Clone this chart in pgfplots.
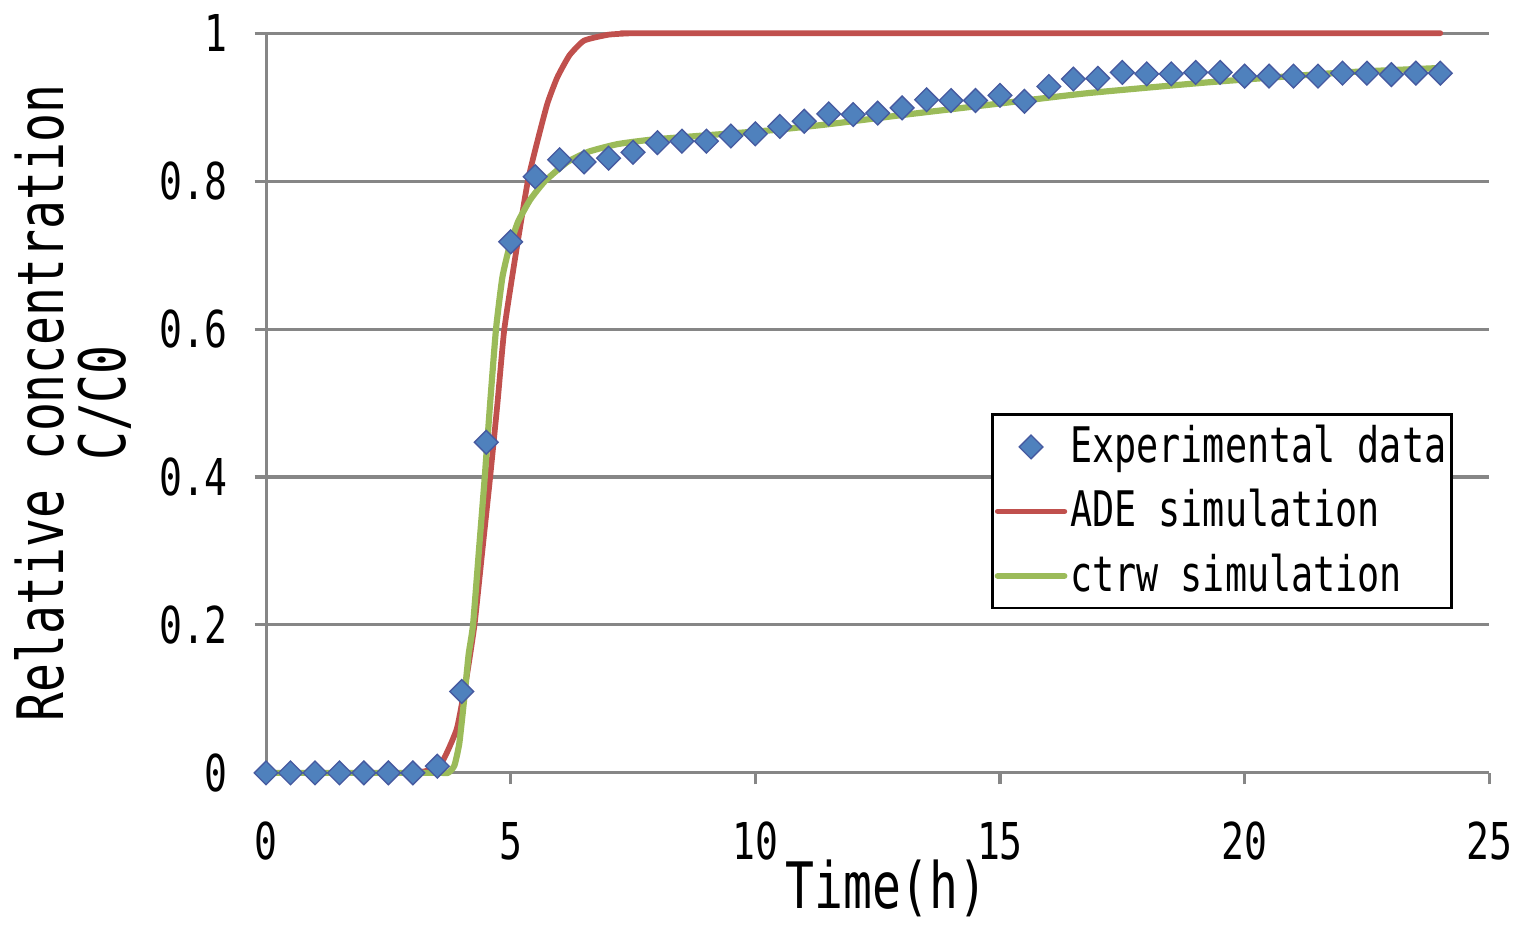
\documentclass[border=0pt]{standalone}
\usepackage{fontspec}
\setmainfont{DejaVu Sans Mono}[FakeStretch=0.75]
\usepackage{pgfplots}
\pgfplotsset{compat=1.18}
\definecolor{xlblue}{RGB}{79,129,189}
\definecolor{xlblueedge}{RGB}{70,90,160}
\definecolor{xlred}{RGB}{192,80,77}
\definecolor{xlgreen}{RGB}{155,187,89}
\definecolor{xlgrid}{RGB}{134,134,134}
\pgfplotsset{
  legline/.style={legend image code/.code={\draw[##1, sharp plot] (0cm,0cm) -- (0.53cm,0cm);}},
  legmark/.style={legend image code/.code={\draw[##1] plot coordinates {(0.265cm,0cm)};}},
}
\begin{document}
\begin{tikzpicture}
\begin{axis}[
    scale only axis, width=277pt, height=167.5pt,
    xmin=0, xmax=25, ymin=0, ymax=1,
    xtick={0,5,10,15,20,25}, ytick={0,0.2,0.4,0.6,0.8,1},
    axis x line*=bottom, axis y line*=left,
    axis line style={draw=xlgrid, line width=0.7pt},
    tick style={draw=xlgrid, line width=0.7pt},
    tick align=outside, major tick length=2.6pt,
    ymajorgrids, major grid style={draw=xlgrid, line width=0.7pt},
    /pgf/number format/assume math mode=true,
    yticklabel style={/pgf/number format/fixed, /pgf/number format/precision=1, xshift=-2.5pt},
    xticklabel style={yshift=-5pt, inner xsep=2pt},
    tick label style={font=\fontsize{11.5}{12}\selectfont},
    xlabel={Time(h)}, xlabel style={font=\fontsize{14.5}{14}\selectfont, yshift=7pt, xshift=2pt},
    ylabel={Relative concentration\\C/C0},
    ylabel style={font=\fontsize{14.5}{14}\selectfont, align=center, yshift=-0.6pt},
    legend style={at={(0.97,0.486)}, anchor=north east, draw=black, line width=0.6pt,
        font=\fontsize{11.1}{12}\selectfont, row sep=0.6pt, inner xsep=0.5pt, inner ysep=0.3pt,
        nodes={inner xsep=0.6pt}},
    legend cell align=left,
    clip=false,
]
\addplot[only marks, mark=square*, mark size=1.9pt,
    mark options={rotate=45, fill=xlblue, draw=xlblueedge, line width=0.3pt}, legmark] coordinates {
  (0,0) (0.5,0) (1,0) (1.5,0) (2,0) (2.5,0) (3,0) (3.5,0.009)
  (4,0.11) (4.5,0.447) (5,0.718) (5.5,0.806) (6,0.829) (6.5,0.826) (7,0.831) (7.5,0.839)
  (8,0.852) (8.5,0.854) (9,0.854) (9.5,0.861) (10,0.864) (10.5,0.874) (11,0.881) (11.5,0.891)
  (12,0.890) (12.5,0.892) (13,0.899) (13.5,0.910) (14,0.909) (14.5,0.909) (15,0.916) (15.5,0.908)
  (16,0.928) (16.5,0.938) (17,0.939) (17.5,0.947) (18,0.945) (18.5,0.945) (19,0.947) (19.5,0.947)
  (20,0.942) (20.5,0.942) (21,0.942) (21.5,0.942) (22,0.946) (22.5,0.946) (23,0.944) (23.5,0.946)
  (24,0.946)};
\addlegendentry{Experimental data}
\addplot[xlred, line width=1.3pt, line cap=round, line join=round, smooth, tension=0.3, legline] coordinates {
  (0,0) (2.8,0) (3.0,0) (3.3,0.003) (3.6,0.015) (3.9,0.06) (4.1,0.13) (4.26,0.2) (4.42,0.3)
  (4.58,0.4) (4.73,0.5) (4.87,0.6) (5.1,0.7) (5.35,0.8) (5.55,0.855) (5.75,0.905)
  (5.95,0.94) (6.2,0.97) (6.5,0.99) (7.0,0.998) (7.5,1) (8,1) (24,1)};
\addlegendentry{ADE simulation}
\addplot[xlgreen, line width=1.4pt, line cap=round, line join=round, smooth, tension=0.3, legline] coordinates {
  (0,0) (3.5,0) (3.72,0) (3.85,0.01) (3.95,0.04) (4.05,0.1) (4.14,0.16) (4.23,0.2) (4.35,0.3) (4.47,0.4)
  (4.58,0.5) (4.70,0.6) (4.83,0.67) (4.97,0.71) (5.15,0.745) (5.4,0.775) (5.7,0.80)
  (6.16,0.826) (6.6,0.840) (7.18,0.85) (7.86,0.856) (9,0.862) (10.37,0.869) (11.5,0.877)
  (13.08,0.89) (15,0.905) (16.8,0.919) (19.33,0.934) (22.04,0.947) (24,0.953)};
\addlegendentry{ctrw simulation}
\end{axis}
\end{tikzpicture}
\end{document}
